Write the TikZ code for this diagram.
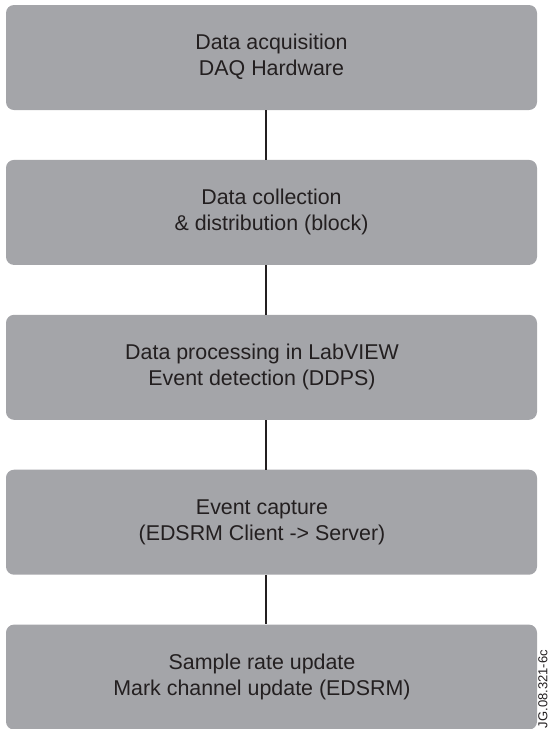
\documentclass[tikz,border=0pt]{standalone}
\usepackage{fontspec}
\setmainfont{Liberation Sans}
\usetikzlibrary{positioning}
\definecolor{boxgray}{HTML}{A4A5A9}
\definecolor{inkdark}{HTML}{231F20}
\begin{document}
\begin{tikzpicture}[x=1pt, y=1pt, node distance=49.5pt,
    stage/.style={rectangle, fill=boxgray, rounded corners=8pt, minimum width=531pt, minimum height=105pt, inner sep=0pt, text=inkdark, font=\fontsize{21.4}{26}\selectfont},
    link/.style={draw=inkdark, line width=2pt}]
    \useasboundingbox (0,0) rectangle (553,-729);
    % Nodes
    \node[stage] (acquire) at (271.5,-57.5) {\begin{tabular}{c}Data acquisition\\DAQ Hardware\end{tabular}};
    \node[stage, below=of acquire] (collect) {\begin{tabular}{c}Data collection\\\& distribution (block)\end{tabular}};
    \node[stage, below=of collect] (process) {\hspace*{-19pt}\begin{tabular}{c}Data processing in LabVIEW\\Event detection (DDPS)\end{tabular}};
    \node[stage, below=of process] (capture) {\hspace*{-19pt}\begin{tabular}{c}Event capture\\(EDSRM Client -> Server)\end{tabular}};
    \node[stage, below=of capture] (update) {\hspace*{-19pt}\begin{tabular}{c}Sample rate update\\Mark channel update (EDSRM)\end{tabular}};
    \node[rotate=90, inner sep=0pt, text=inkdark, font=\fontsize{13}{13}\selectfont] (tag) at (543,-689) {JG.08.321-6c};

    % Connectors
    \draw[link] ([xshift=-5.5pt]acquire.south) -- ([xshift=-5.5pt]collect.north);
    \draw[link] ([xshift=-5.5pt]collect.south) -- ([xshift=-5.5pt]process.north);
    \draw[link] ([xshift=-5.5pt]process.south) -- ([xshift=-5.5pt]capture.north);
    \draw[link] ([xshift=-5.5pt]capture.south) -- ([xshift=-5.5pt]update.north);
\end{tikzpicture}
\end{document}
